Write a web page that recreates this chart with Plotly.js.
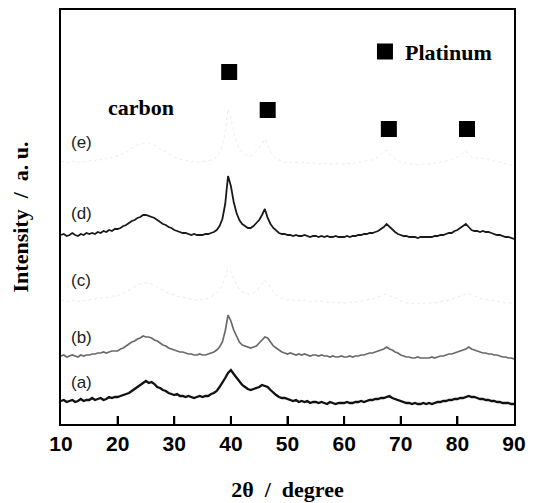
<!DOCTYPE html>
<html>
<head>
<meta charset="utf-8">
<script src="https://cdn.plot.ly/plotly-3.0.1.min.js"></script>
<style>
  html, body { margin: 0; padding: 0; background: #ffffff; }
  #chart { width: 540px; height: 503px; }
</style>
</head>
<body>
<div id="chart"></div>
<script>
// XRD patterns of Pt/carbon samples (a)-(e), stacked with vertical offsets.
// Sampling grid for 2θ (degrees).
const twoThetaStart = 10;
const twoThetaStep = 0.5;

const sampleLabels = ['(a)', '(b)', '(c)', '(d)', '(e)'];

// Stacked intensities (a.u.), one value per 0.5° from 10° to 90°.
const intensityA = [
  23,24,22,23,24,22,23,25,23,24,
  24,26,24,25,26,24,25,27,26,27,
  27,28,29,30,31,33,35,37,39,41,
  43,41,42,40,37,36,34,33,31,30,
  29,30,28,28,27,28,27,26,27,28,
  27,28,28,30,31,33,37,41,46,51,
  54,50,46,43,39,37,35,34,35,36,
  37,39,38,37,34,31,29,27,26,26,
  25,24,23,24,22,23,22,23,21,22,
  22,21,22,21,20,22,21,20,21,21,
  21,22,21,21,22,22,23,22,23,24,
  24,25,25,26,26,27,28,26,25,24,
  23,22,21,21,20,21,20,20,21,20,
  21,20,21,22,22,23,23,24,24,25,
  25,26,26,27,28,27,27,26,25,25,
  24,24,23,23,22,22,21,21,21,20,
  20
];
const intensityB = [
  68,69,67,68,69,68,67,69,68,69,
  69,70,70,71,71,72,71,72,73,73,
  73,75,76,78,80,82,83,85,86,88,
  87,87,86,84,83,81,79,78,76,75,
  74,73,72,72,71,70,70,69,69,70,
  69,69,70,71,72,74,77,82,93,109,
  103,94,87,82,79,78,77,76,77,78,
  81,84,87,86,82,78,76,74,72,71,
  70,71,70,69,70,69,70,69,68,69,
  69,68,69,68,68,67,68,67,67,68,
  67,67,68,67,68,68,69,69,70,71,
  71,72,73,74,75,77,75,74,72,71,
  69,68,67,67,66,66,67,66,66,66,
  66,67,66,67,68,68,69,70,70,71,
  72,73,74,75,77,75,74,73,72,71,
  71,70,70,69,69,68,67,67,66,66,
  65
];
const intensityC = [
  123,124,122,123,124,123,122,124,123,124,
  124,125,125,126,126,127,126,127,128,128,
  128,130,131,133,134,136,137,139,140,141,
  141,141,140,138,137,135,134,132,131,130,
  129,128,127,127,126,125,125,124,124,125,
  124,125,126,127,129,131,134,139,147,155,
  152,145,139,135,132,131,130,130,131,133,
  136,140,144,141,136,132,129,127,126,125,
  124,125,124,123,124,123,124,123,122,123,
  123,122,123,122,122,121,122,121,121,122,
  121,121,122,121,122,122,123,123,124,125,
  125,126,127,128,129,130,128,127,126,125,
  123,122,121,121,120,121,121,120,121,121,
  121,121,121,122,122,123,123,124,125,126,
  127,128,129,130,131,129,128,127,126,125,
  125,124,124,123,123,122,122,121,121,121,
  120
];
const intensityD = [
  189,190,188,189,191,189,188,190,189,191,
  190,191,190,192,191,193,192,194,193,195,
  195,196,198,199,201,203,204,206,207,209,
  209,208,207,206,204,202,200,199,197,196,
  194,193,192,191,191,190,189,190,189,189,
  189,190,190,191,192,194,198,205,220,248,
  238,222,211,204,200,198,196,196,198,201,
  204,209,215,206,200,196,193,191,190,190,
  189,189,188,189,188,188,189,188,187,188,
  188,187,188,187,188,187,187,188,187,187,
  187,188,187,188,188,189,189,190,190,191,
  191,192,193,195,197,200,197,194,192,190,
  189,188,188,187,187,187,186,187,187,187,
  187,187,188,188,189,189,190,191,191,193,
  194,196,198,200,197,194,193,193,192,193,
  192,192,191,190,189,189,188,187,187,186,
  185
];
const intensityE = [
  262,263,261,262,263,262,261,263,262,263,
  263,264,263,265,264,266,265,267,266,268,
  268,269,271,272,274,276,277,279,280,281,
  281,281,280,279,277,275,273,272,270,269,
  267,266,265,264,264,263,262,263,262,262,
  262,263,263,264,265,267,271,278,292,315,
  306,292,282,276,272,270,268,268,270,273,
  276,280,285,278,272,268,265,264,263,262,
  262,262,261,262,261,261,262,261,260,261,
  261,260,261,260,261,260,260,261,260,260,
  260,261,260,261,261,262,262,263,263,264,
  264,265,267,270,272,274,270,267,265,263,
  262,261,261,260,260,260,259,260,260,260,
  260,260,261,261,262,262,263,264,264,266,
  267,269,271,273,270,267,266,266,265,266,
  265,265,264,263,262,262,261,260,260,259,
  258
];

// Platinum reflections marked above the patterns.
const platinumAngles = [39.7, 46.5, 67.9, 81.7];
const platinumMarkLevels = [352, 314, 295, 295];

// Axis ticks.
const tickAngles = [10, 20, 30, 40, 50, 60, 70, 80, 90];
const tickTexts = ['10', '20', '30', '40', '50', '60', '70', '80', '90'];

const twoTheta = intensityA.map((_, i) => twoThetaStart + i * twoThetaStep);

const curves = [
  { y: intensityA, color: '#111111', width: 2.3, dash: 'solid' },
  { y: intensityB, color: '#6a6a6a', width: 1.7, dash: 'solid' },
  { y: intensityC, color: '#ebebeb', width: 1, dash: 'dot' },
  { y: intensityD, color: '#1a1a1a', width: 1.8, dash: 'solid' },
  { y: intensityE, color: '#ececec', width: 1, dash: 'dot' }
];

const traces = curves.map((c, k) => ({
  type: 'scatter',
  mode: 'lines',
  name: sampleLabels[k],
  x: twoTheta,
  y: c.y,
  line: { color: c.color, width: c.width, dash: c.dash },
  showlegend: false,
  hoverinfo: 'skip'
}));

traces.push({
  type: 'scatter',
  mode: 'markers',
  name: 'Platinum',
  x: platinumAngles,
  y: platinumMarkLevels,
  marker: { symbol: 'square', size: 16, color: '#000000', line: { width: 0 } },
  showlegend: true,
  hoverinfo: 'skip'
});

const serifBold = { family: 'Liberation Serif, Times New Roman, serif', size: 22, color: '#000000', weight: 'bold' };
const labelFont = { family: 'Liberation Sans, Arial, sans-serif', size: 17, color: '#222222' };

// Curve labels, placed just above each pattern's baseline.
const labelLevels = [42, 87, 144, 211, 282];
const annotations = sampleLabels.map((t, k) => ({
  x: 10, y: labelLevels[k], xref: 'x', yref: 'y',
  xanchor: 'left', yanchor: 'middle', xshift: 8,
  text: t, showarrow: false, font: labelFont
}));
annotations.push({
  x: 24.1, y: 317, xref: 'x', yref: 'y',
  xanchor: 'center', yanchor: 'middle',
  text: 'carbon', showarrow: false, font: serifBold
});

// Short inward tick marks on the bottom axis, drawn above the traces.
const tickShapes = tickAngles.slice(1, -1).map(a => ({
  type: 'line', xref: 'x', yref: 'paper',
  x0: a, x1: a, y0: 0, y1: 8 / 414,
  line: { color: '#000000', width: 2 },
  layer: 'above'
}));

const layout = {
  width: 540,
  height: 503,
  margin: { l: 61, r: 26, t: 10, b: 79 },
  paper_bgcolor: '#ffffff',
  plot_bgcolor: '#ffffff',
  showlegend: true,
  legend: {
    x: 0.671, y: 0.899, xanchor: 'left', yanchor: 'middle',
    bgcolor: 'rgba(0,0,0,0)', borderwidth: 0,
    font: serifBold
  },
  xaxis: {
    range: [10, 90],
    tickmode: 'array',
    tickvals: tickAngles,
    ticktext: tickTexts,
    showticklabels: true,
    ticks: 'inside',
    ticklen: 8,
    tickwidth: 2,
    tickcolor: '#000000',
    tickfont: { family: 'Liberation Sans, Arial, sans-serif', size: 21, color: '#000000', weight: 'bold' },
    showline: true,
    linecolor: '#000000',
    linewidth: 2,
    mirror: true,
    showgrid: false,
    zeroline: false,
    title: { text: '2θ\u00a0\u00a0/\u00a0\u00a0degree', font: serifBold, standoff: 27 }
  },
  yaxis: {
    range: [0, 414],
    showticklabels: false,
    ticks: '',
    showline: true,
    linecolor: '#000000',
    linewidth: 2,
    mirror: true,
    showgrid: false,
    zeroline: false,
    title: { text: 'Intensity\u00a0\u00a0/\u00a0\u00a0a.\u00a0u.', font: serifBold, standoff: 24 }
  },
  shapes: tickShapes,
  annotations: annotations
};

Plotly.newPlot('chart', traces, layout, { staticPlot: true, displayModeBar: false });
</script>
</body>
</html>
